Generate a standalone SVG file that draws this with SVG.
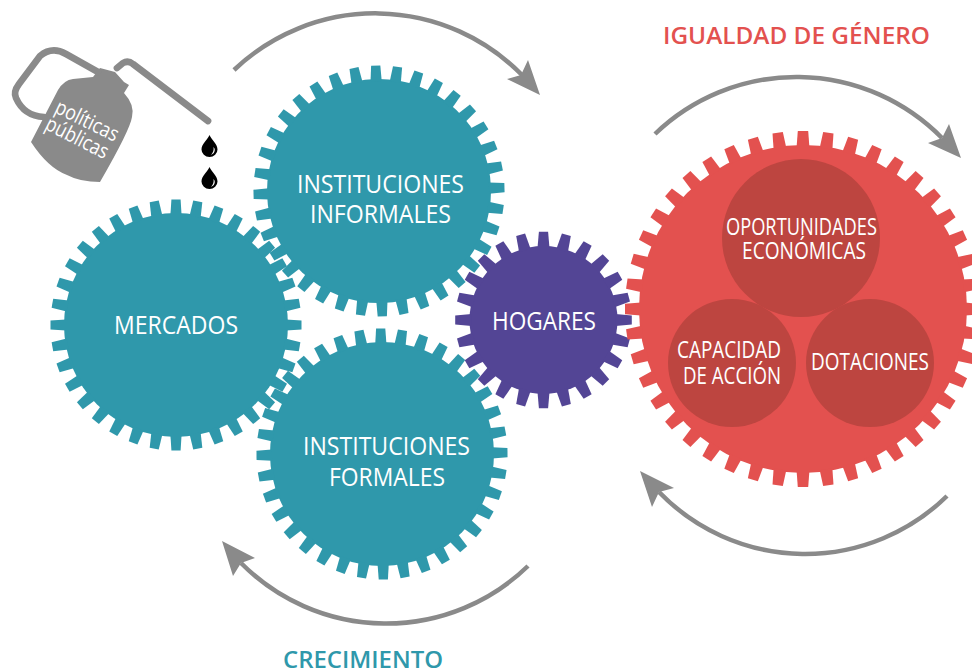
<svg xmlns="http://www.w3.org/2000/svg" width="972" height="671" viewBox="0 0 972 671">
<style>
text{font-family:"Open Sans","Noto Sans","Liberation Sans",sans-serif;text-anchor:middle;fill:#fff;font-size:25px}
.head{font-weight:600;font-size:24px}
.sm{font-size:24px}
.can{font-size:21px}
.arc{fill:none;stroke:#8a8a8a;stroke-width:4.5}
.ah{fill:#8a8a8a}
.line{fill:none;stroke:#8a8a8a;stroke-width:6.7;stroke-linecap:round;stroke-linejoin:round}
.teal{fill:#2f98ab}.purple{fill:#534595}.red{fill:#e3514f}.dark{fill:#bd4540}
</style>
<defs>
<path id="ta" d="M-5.600-110L-4.600-125.500H4.600L5.600-110Z"/>
<g id="ta3"><use href="#ta"/><use href="#ta" transform="rotate(10)"/><use href="#ta" transform="rotate(20)"/></g>
<g id="ta9"><use href="#ta3"/><use href="#ta3" transform="rotate(30)"/><use href="#ta3" transform="rotate(60)"/></g>
<g id="gear36"><circle r="112"/><use href="#ta9"/><use href="#ta9" transform="rotate(90)"/><use href="#ta9" transform="rotate(180)"/><use href="#ta9" transform="rotate(270)"/></g>
<path id="tp" d="M-6-72L-4.600-88.300H4.600L6-72Z"/>
<g id="tp3"><use href="#tp"/><use href="#tp" transform="rotate(15)"/><use href="#tp" transform="rotate(30)"/></g>
<g id="gear24"><circle r="74"/><use href="#tp3"/><use href="#tp3" transform="rotate(45)"/><use href="#tp3" transform="rotate(90)"/><use href="#tp3" transform="rotate(135)"/><use href="#tp3" transform="rotate(180)"/><use href="#tp3" transform="rotate(225)"/><use href="#tp3" transform="rotate(270)"/><use href="#tp3" transform="rotate(315)"/></g>
<path id="tr" d="M-6.400-162L-5.200-178H5.200L6.400-162Z"/>
<g id="tr11"><use href="#tr"/><use href="#tr" transform="rotate(8.1818)"/><use href="#tr" transform="rotate(16.3636)"/><use href="#tr" transform="rotate(24.5455)"/><use href="#tr" transform="rotate(32.7273)"/><use href="#tr" transform="rotate(40.9091)"/><use href="#tr" transform="rotate(49.0909)"/><use href="#tr" transform="rotate(57.2727)"/><use href="#tr" transform="rotate(65.4545)"/><use href="#tr" transform="rotate(73.6364)"/><use href="#tr" transform="rotate(81.8182)"/></g>
<g id="gear44"><circle r="164"/><use href="#tr11"/><use href="#tr11" transform="rotate(90)"/><use href="#tr11" transform="rotate(180)"/><use href="#tr11" transform="rotate(270)"/></g>
<path id="drop" d="M0-11C-2-6-8-2-8 3.500A8 7.500 0 0 0 8 3.500C8-2 2-6 0-11ZM5 2.500C6 6 3.500 8 1.500 9C3.800 6.500 4.500 4 4 1Z" fill-rule="evenodd"/>
</defs>

<g id="connectors">
<path class="arc" d="M234 70A205 205 0 0 1 522 75"/>
<polygon class="ah" points="540,95 507,79 521,75 528,60"/>
<path class="arc" d="M655 134A204 204 0 0 1 942 138"/>
<polygon class="ah" points="961,158 928,143 942,138 949,124"/>
<path class="arc" d="M947 496A203 203 0 0 1 659 492"/>
<polygon class="ah" points="640,471 674,488 659,492 652,507"/>
<path class="arc" d="M528 566A204 204 0 0 1 241 563"/>
<polygon class="ah" points="222,541 255,558 241,563 233,576"/>
</g>

<g id="gear-informales"><use href="#gear36" class="teal" transform="translate(379 191) rotate(-1.5)"/><text x="380.500" y="193" textLength="167" lengthAdjust="spacingAndGlyphs">INSTITUCIONES</text><text x="380.500" y="223" textLength="141" lengthAdjust="spacingAndGlyphs">INFORMALES</text></g>
<g id="gear-formales"><use href="#gear36" class="teal" transform="translate(382 454) rotate(-0.6)"/><text x="386.500" y="455" textLength="167" lengthAdjust="spacingAndGlyphs">INSTITUCIONES</text><text x="387" y="486" textLength="116" lengthAdjust="spacingAndGlyphs">FORMALES</text></g>
<g id="gear-mercados"><use href="#gear36" class="teal" transform="translate(176 325)"/><text x="176" y="334" textLength="124" lengthAdjust="spacingAndGlyphs">MERCADOS</text></g>
<g id="gear-hogares"><use href="#gear24" class="purple" transform="translate(543.500 320)"/><text x="544" y="330" textLength="104" lengthAdjust="spacingAndGlyphs">HOGARES</text></g>
<g id="gear-igualdad"><use href="#gear44" class="red" transform="translate(803 309)"/>
<circle class="dark" cx="801" cy="238" r="79"/><circle class="dark" cx="732" cy="363" r="64"/><circle class="dark" cx="870" cy="363" r="64"/>
<text class="sm" x="801.500" y="235" textLength="151" lengthAdjust="spacingAndGlyphs">OPORTUNIDADES</text><text class="sm" x="804" y="259" textLength="124" lengthAdjust="spacingAndGlyphs">ECONÓMICAS</text>
<text class="sm" x="729" y="358" textLength="104" lengthAdjust="spacingAndGlyphs">CAPACIDAD</text><text class="sm" x="732" y="384" textLength="98" lengthAdjust="spacingAndGlyphs">DE ACCIÓN</text>
<text class="sm" x="870" y="370" textLength="118" lengthAdjust="spacingAndGlyphs">DOTACIONES</text></g>

<g id="oil-can">
<path class="ah" d="M100 68L115 72L124 82L129 85L124 93Q135 105 132 117Q130 130 100 182Q80 182 67 175Q48 168 31 142L58 90Q64 80 73 79L93 77Z"/>
<path class="line" d="M98 72L66 54Q52 46 40 56L19 84Q13 92 16 98Q24 116 44 117"/>
<path class="line" d="M117 68L123 63Q128 60 133 64L208 121"/>
<text class="can" transform="translate(84 127) rotate(26)" textLength="68" lengthAdjust="spacingAndGlyphs">políticas</text>
<text class="can" transform="translate(74 144) rotate(27)" textLength="68" lengthAdjust="spacingAndGlyphs">públicas</text>
</g>
<g id="drops"><use href="#drop" transform="translate(209.500 146)"/><use href="#drop" transform="translate(209.500 178)"/></g>

<text class="head" x="796.500" y="44" style="fill:#e3514f" textLength="267" lengthAdjust="spacingAndGlyphs">IGUALDAD DE GÉNERO</text>
<text class="head" x="363" y="668" style="fill:#2f98ab" textLength="160" lengthAdjust="spacingAndGlyphs">CRECIMIENTO</text>
</svg>
